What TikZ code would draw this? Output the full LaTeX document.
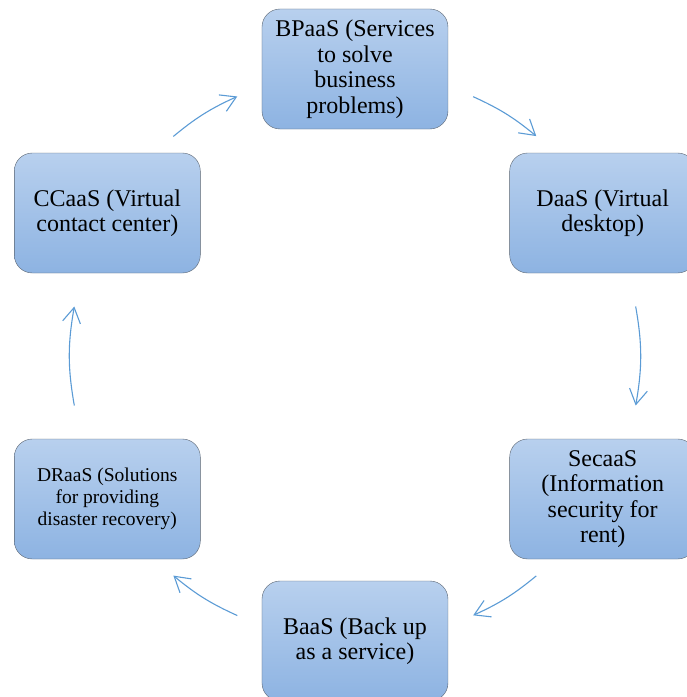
\documentclass[tikz,border=0pt]{standalone}
\usepackage{fontspec}
\setmainfont{Liberation Serif}
\usetikzlibrary{arrows.meta,positioning,shapes}

\definecolor{boxtop}{HTML}{B8D0EE}
\definecolor{boxbot}{HTML}{8DB3E2}
\definecolor{boxline}{HTML}{5A6470}
\definecolor{flowblue}{HTML}{5B9BD5}

\begin{document}
\begin{tikzpicture}[x=1pt,y=1pt,thin,>={Straight Barb[length=15pt,width=18pt]}]
\tikzstyle{service}=[shape=rectangle,rounded corners=18pt,draw=boxline,top color=boxtop,bottom color=boxbot,minimum width=186pt,minimum height=120pt,align=center,text=black,font=\fontsize{24}{25.5}\selectfont]
\tikzstyle{cycle}=[->,draw=flowblue,line width=1.1pt]

\useasboundingbox (-355,-341) rectangle (332,356);

\node[service]      (BP) at (90:287)   {BPaaS (Services\\to solve\\business\\problems)};
\node[service]      (DA) at (30:286)   {DaaS (Virtual\\desktop)};
\node[service]      (SE) at (-30:286)  {SecaaS\\(Information\\security for\\rent)};
\node[service]      (BA) at (-90:285)  {BaaS (Back up\\as a service)};
\node[service,font=\fontsize{19.5}{22}\selectfont]
                    (DR) at (-150:286) {DRaaS (Solutions\\for providing\\disaster recovery)};
\node[service]      (CC) at (150:286)  {CCaaS (Virtual\\contact center)};

% arrows between the boxes, on the big circle
\foreach \m/\h [count=\i] in {122/7.6, 58/7.5, 0/10, -58/7.5, -122/7.6, 180/10}{
  \coordinate (s\i) at (\m+\h:285);
  \coordinate (e\i) at (\m-\h:285);
  \draw[cycle] (s\i) to[bend left=\h] (e\i);
}
\end{tikzpicture}
\end{document}
